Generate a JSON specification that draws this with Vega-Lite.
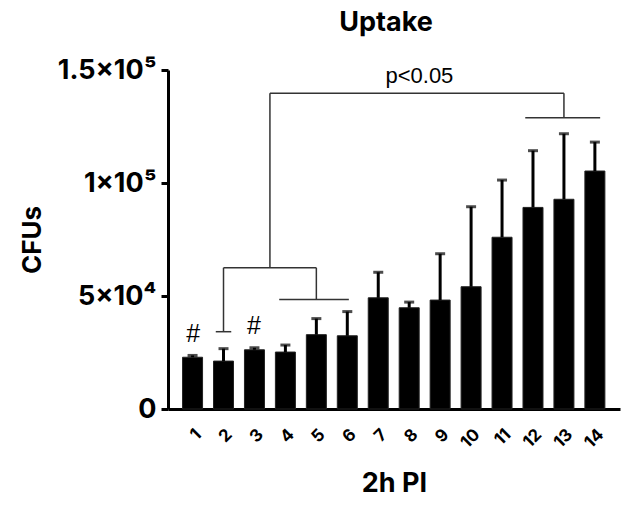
{
  "$schema": "https://vega.github.io/schema/vega-lite/v6.json",
  "autosize": "none",
  "width": 452,
  "height": 339,
  "padding": {"left": 168, "top": 70, "right": 5, "bottom": 98},
  "background": "white",
  "config": {
    "font": "Inter",
    "view": {"stroke": null},
    "axis": {"grid": false, "domainColor": "black", "domainWidth": 3, "tickColor": "black", "labelColor": "black", "titleColor": "black", "labelOverlap": false, "labelFlush": false}
  },
  "title": {"text": "Uptake", "font": "Inter", "fontSize": 27, "fontWeight": "bold", "color": "black", "anchor": "middle", "offset": 19, "dx": -8},
  "datasets": {
    "bars": [
      {"group": 1, "cfu": 22900, "upper": 23700},
      {"group": 2, "cfu": 21200, "upper": 26700},
      {"group": 3, "cfu": 26200, "upper": 27100},
      {"group": 4, "cfu": 25200, "upper": 28300},
      {"group": 5, "cfu": 32900, "upper": 40000},
      {"group": 6, "cfu": 32400, "upper": 43100},
      {"group": 7, "cfu": 49200, "upper": 60500},
      {"group": 8, "cfu": 44800, "upper": 47300},
      {"group": 9, "cfu": 48200, "upper": 68700},
      {"group": 10, "cfu": 54100, "upper": 89500},
      {"group": 11, "cfu": 76000, "upper": 101300},
      {"group": 12, "cfu": 89200, "upper": 114300},
      {"group": 13, "cfu": 92800, "upper": 121800},
      {"group": 14, "cfu": 105300, "upper": 118100}
    ],
    "brackets": [
      {"x1": 1.75, "x2": 2.25, "y1": 34200, "y2": 34200},
      {"x1": 2, "x2": 2, "y1": 34200, "y2": 62500},
      {"x1": 2, "x2": 5, "y1": 62500, "y2": 62500},
      {"x1": 5, "x2": 5, "y1": 48500, "y2": 62500},
      {"x1": 3.8, "x2": 6.05, "y1": 48500, "y2": 48500},
      {"x1": 3.5, "x2": 3.5, "y1": 62500, "y2": 139700},
      {"x1": 3.5, "x2": 13, "y1": 139700, "y2": 139700},
      {"x1": 13, "x2": 13, "y1": 128900, "y2": 139700},
      {"x1": 11.75, "x2": 14.17, "y1": 128900, "y2": 128900}
    ],
    "notes": [
      {"label": "#", "x": 1.02, "y": 29600, "size": 25},
      {"label": "#", "x": 2.98, "y": 33200, "size": 25},
      {"label": "p<0.05", "x": 8.33, "y": 144100, "size": 22}
    ]
  },
  "layer": [
    {
      "data": {"name": "bars"},
      "mark": {"type": "bar", "width": 20, "color": "black", "stroke": "#222", "strokeWidth": 1},
      "encoding": {
        "x": {
          "field": "group", "type": "quantitative",
          "scale": {"domain": [0.368, 14.65], "nice": false, "zero": false},
          "axis": {
            "title": "2h PI", "titleFont": "Inter", "titleFontSize": 27, "titleFontWeight": "bold", "titlePadding": 20,
            "values": [1,2,3,4,5,6,7,8,9,10,11,12,13,14],
            "labelAngle": -45, "labelFont": "Inter", "labelFontSize": 17, "labelFontWeight": "bold", "labelPadding": 17,
            "ticks": false, "labelOverlap": false, "labelFlush": false
          }
        },
        "y": {
          "field": "cfu", "type": "quantitative",
          "scale": {"domain": [0, 150000], "nice": false},
          "axis": {
            "title": "CFUs", "titleFont": "Inter", "titleFontSize": 26, "titleFontWeight": "bold", "titlePadding": 12,
            "values": [0, 50000, 100000, 150000],
            "labelExpr": "datum.value == 0 ? '0' : datum.value == 50000 ? '5×10⁴' : datum.value == 100000 ? '1×10⁵' : '1.5×10⁵'",
            "labelFont": "Inter", "labelFontSize": 27, "labelFontWeight": "bold", "labelPadding": 5,
            "tickSize": 7, "tickWidth": 3, "labelOverlap": false, "labelFlush": false
          }
        }
      }
    },
    {
      "data": {"name": "bars"},
      "mark": {"type": "rule", "color": "black", "strokeWidth": 3},
      "encoding": {
        "x": {"field": "group", "type": "quantitative", "axis": {"title": "2h PI", "values": [1,2,3,4,5,6,7,8,9,10,11,12,13,14], "labelOverlap": false}},
        "y": {"field": "cfu", "type": "quantitative", "axis": {"title": "CFUs", "values": [0, 50000, 100000, 150000], "labelOverlap": false}},
        "y2": {"field": "upper"}
      }
    },
    {
      "data": {"name": "bars"},
      "mark": {"type": "tick", "orient": "horizontal", "color": "black", "size": 10, "thickness": 3},
      "encoding": {
        "x": {"field": "group", "type": "quantitative", "axis": {"title": "2h PI", "values": [1,2,3,4,5,6,7,8,9,10,11,12,13,14], "labelOverlap": false}},
        "y": {"field": "upper", "type": "quantitative", "axis": {"title": "CFUs", "values": [0, 50000, 100000, 150000], "labelOverlap": false}}
      }
    },
    {
      "data": {"name": "brackets"},
      "mark": {"type": "rule", "color": "#333", "strokeWidth": 1.5},
      "encoding": {
        "x": {"field": "x1", "type": "quantitative", "axis": {"title": "2h PI", "values": [1,2,3,4,5,6,7,8,9,10,11,12,13,14], "labelOverlap": false}},
        "x2": {"field": "x2"},
        "y": {"field": "y1", "type": "quantitative", "axis": {"title": "CFUs", "values": [0, 50000, 100000, 150000], "labelOverlap": false}},
        "y2": {"field": "y2"}
      }
    },
    {
      "data": {"name": "notes"},
      "mark": {"type": "text", "color": "black", "font": "Liberation Sans", "baseline": "alphabetic", "align": "center"},
      "encoding": {
        "x": {"field": "x", "type": "quantitative", "axis": {"title": "2h PI", "values": [1,2,3,4,5,6,7,8,9,10,11,12,13,14], "labelOverlap": false}},
        "y": {"field": "y", "type": "quantitative", "axis": {"title": "CFUs", "values": [0, 50000, 100000, 150000], "labelOverlap": false}},
        "text": {"field": "label"},
        "size": {"field": "size", "type": "quantitative", "scale": null, "legend": null}
      }
    }
  ]
}
